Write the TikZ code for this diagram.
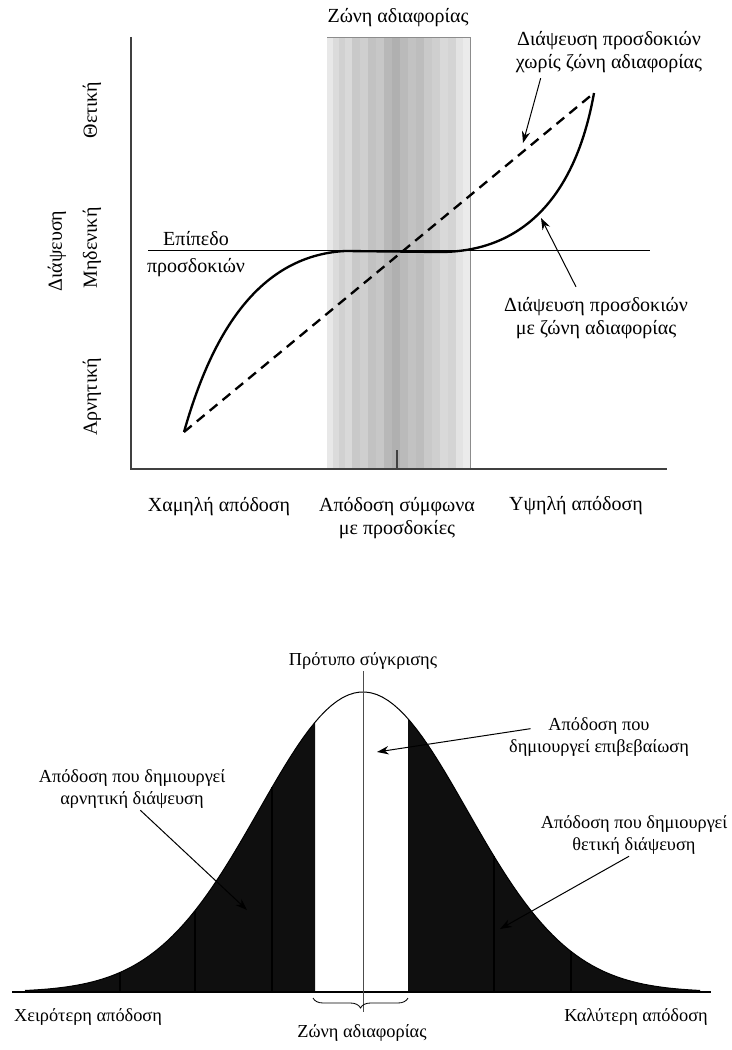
\documentclass[tikz,border=0pt]{standalone}
\usepackage{fontspec}
\setmainfont{Liberation Serif}
\usetikzlibrary{arrows.meta, positioning, decorations.pathreplacing, calc}

\begin{document}
\begin{tikzpicture}[
  x=0.6pt, y=-0.6pt,
  lbl/.style={font=\fontsize{12}{14}\selectfont, align=center, inner sep=1pt},
  small/.style={font=\fontsize{11}{13}\selectfont, align=center, inner sep=1pt},
  axis/.style={line width=1.2pt, black!75},
  curve/.style={line width=1.4pt},
  arrow/.style={-{Stealth[length=7pt, width=5pt]}, line width=0.6pt}
]
  \useasboundingbox (0,0) rectangle (732,1050);

  % --- upper chart: zone of indifference
  \foreach \xa/\xb/\g in {327/333/9, 333/339/14, 339/345/18, 345/352/15, 352/360/21,
      360/368/19, 368/376/24, 376/384/22, 384/392/28, 392/400/31, 400/408/27,
      408/416/24, 416/424/26, 424/432/21, 432/440/19, 440/448/15, 448/456/17,
      456/463/11, 463/470/8}
    \fill[black!\g] (\xa,37) rectangle (\xb,469);
  \draw[black!45, line width=0.5pt] (327,37) -- (470,37) -- (470,469);
  \node[lbl] (zonetitle) at (398,18) {Ζώνη αδιαφορίας};

  % axes
  \coordinate (O) at (131,469);
  \draw[axis] (131,37) -- (O) -- (667,469);
  \draw[axis] (397,450) -- (397,469);

  % expectation level
  \draw[line width=0.6pt] (148,251) -- (650,251);
  \node[lbl] (level) at (196,254) {Επίπεδο\\[2pt]προσδοκιών};

  % curves
  \coordinate (A) at (184,432);
  \coordinate (B) at (594,93);
  \draw[curve, dash pattern=on 6pt off 4pt] (A) -- (B);
  \draw[curve] (A) .. controls (210,340) and (255,256) .. (345,251)
    -- (440,252) .. controls (520,252) and (575,200) .. (B);

  % y labels
  \node[lbl, rotate=90] (ytitle) at (57,251) {Διάψευση};
  \node[lbl, rotate=90] (ypos) at (92,110) {Θετική};
  \node[lbl, rotate=90] (yzero) at (92,248) {Μηδενική};
  \node[lbl, rotate=90] (yneg) at (92,397) {Αρνητική};

  % x labels
  \node[lbl] (low) at (219,507) {Χαμηλή απόδοση};
  \node[lbl] (mid) at (397,518) {Απόδοση σύμφωνα\\με προσδοκίες};
  \node[lbl] (high) at (576,506) {Υψηλή απόδοση};

  % annotations
  \node[lbl] (nozone) at (609,52) {Διάψευση προσδοκιών\\χωρίς ζώνη αδιαφορίας};
  \node[lbl] (withzone) at (596,318) {Διάψευση προσδοκιών\\με ζώνη αδιαφορίας};
  \coordinate (tipA) at (523,143);
  \coordinate (tipB) at (541,218);
  \draw[arrow] ([shift={(-41pt,-2pt)}]nozone.south) -- (tipA);
  \draw[arrow] ([shift={(-12pt,5pt)}]withzone.north) -- (tipB);

  % --- lower chart: distribution of performance
  \fill[black!94] (25,992) -- plot[domain=25:315, samples=60]
    (\x, {992 - 300*exp(-0.5*((\x-363)/104)^2)}) -- (315,992) -- cycle;
  \fill[black!94] (408,992) -- plot[domain=408:700, samples=60]
    (\x, {992 - 300*exp(-0.5*((\x-363)/104)^2)}) -- (700,992) -- cycle;
  \foreach \s in {120, 195, 272, 494, 571}
    \draw[black, line width=1pt] (\s,992) -- (\s, {992 - 300*exp(-0.5*((\s-363)/104)^2)});
  \draw[line width=0.6pt] plot[domain=25:700, samples=120]
    (\x, {992 - 300*exp(-0.5*((\x-363)/104)^2)});
  \draw[line width=1pt] (12,992) -- (711,992);

  % reference line and zone brace
  \node[small] (ref) at (363,661) {Πρότυπο σύγκρισης};
  \coordinate (tip) at (363,1012);
  \draw[line width=0.5pt, black!70] (ref.south) -- (tip);
  \draw[line width=0.5pt, decorate, decoration={brace, mirror, amplitude=6pt}]
    (313,998) -- (408,998);
  \node[small] (zone) at (362,1033) {Ζώνη αδιαφορίας};

  \node[small] (worse) at (88,1017) {Χειρότερη απόδοση};
  \node[small] (better) at (636,1017) {Καλύτερη απόδοση};

  \node[small] (neg) at (132,789) {Απόδοση που δημιουργεί\\αρνητική διάψευση};
  \node[small] (confirm) at (599,737) {Απόδοση που\\δημιουργεί επιβεβαίωση};
  \node[small] (pos) at (634,835) {Απόδοση που δημιουργεί\\θετική διάψευση};
  \coordinate (tipN) at (247,910);
  \coordinate (tipC) at (377,752);
  \coordinate (tipP) at (500,929);
  \draw[arrow] ([xshift=5pt]neg.south) -- (tipN);
  \draw[arrow] ([shift={(14pt,5pt)}]confirm.west) -- (tipC);
  \draw[arrow] ([xshift=-3pt]pos.south) -- (tipP);
\end{tikzpicture}
\end{document}
